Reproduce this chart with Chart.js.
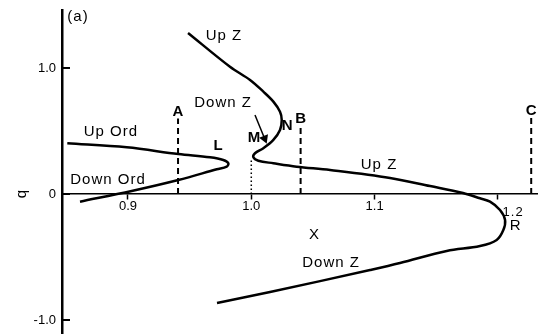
<!DOCTYPE html>
<html>
<head>
<meta charset="utf-8">
<script src="https://cdn.jsdelivr.net/npm/chart.js@4.4.0/dist/chart.umd.min.js"></script>
<style>
  html, body { margin: 0; padding: 0; background: #fff; }
  #box { width: 541px; height: 334px; }
</style>
</head>
<body>
<div id="box"><canvas id="myChart"></canvas></div>
<script>
// ordinary branch: Up Ord -> turning point L -> Down Ord
const ordX = [0.8508, 0.899, 0.9408, 0.9665, 0.9773, 0.9814, 0.9801, 0.972, 0.9408, 0.903, 0.8611];
const ordQ = [0.402, 0.370, 0.317, 0.291, 0.270, 0.244, 0.217, 0.196, 0.111, 0.024, -0.061];

// Z branch: Up Z (top) -> N -> M -> Up Z -> R -> Down Z
const zX = [0.9487, 0.9827, 0.9990, 1.0098, 1.0179, 1.0233, 1.0247, 1.0233, 1.0179, 1.0098, 1.0030, 1.0017,
            1.0057, 1.0179, 1.0368, 1.0639, 1.1125, 1.1450, 1.1717, 1.1855, 1.1936, 1.2017, 1.2058, 1.2044,
            1.1990, 1.1855, 1.1585, 1.1206, 1.0963, 1.0152, 0.9722];
const zQ = [1.278, 1.010, 0.905, 0.812, 0.733, 0.653, 0.587, 0.508, 0.429, 0.363, 0.323, 0.291,
            0.264, 0.244, 0.217, 0.190, 0.127, 0.063, 0.008, -0.034, -0.061, -0.127, -0.206, -0.286,
            -0.365, -0.413, -0.452, -0.548, -0.603, -0.778, -0.865];

// cuts A, B, C (dashed) and the dotted drop from M
const cutNames = ['A', 'B', 'C'];
const cutX = [0.9406, 1.040, 1.227];
const cutTop = [0.60, 0.55, 0.61];
const mX = 1.0;
const mTop = 0.28;

const xTicks = [0.9, 1.0, 1.1, 1.2];
const xTickLabels = ['0.9', '1.0', '1.1', ''];
const yTicks = [-1.0, 0, 1.0];
const yTickLabels = ['-1.0', '0', '1.0'];

const FONT = '"Liberation Sans", Arial, sans-serif';

// text placed in data units
const notes = [
  { text: '(a)', x: 0.8595, q: 1.405 },
  { text: 'Up Z', x: 0.9779, q: 1.254 },
  { text: 'Down Z', x: 0.9771, q: 0.722 },
  { text: 'Up Ord', x: 0.8862, q: 0.492 },
  { text: 'L', x: 0.9730, q: 0.381, bold: true },
  { text: 'M', x: 1.0022, q: 0.444, bold: true },
  { text: 'N', x: 1.0290, q: 0.540, bold: true },
  { text: 'Up Z', x: 1.1036, q: 0.230 },
  { text: 'Down Ord', x: 0.8838, q: 0.111 },
  { text: 'Down Z', x: 1.0647, q: -0.548 },
  { text: 'X', x: 1.0509, q: -0.325 },
  { text: 'R', x: 1.2139, q: -0.254 },
  { text: '1.2', x: 1.2123, q: -0.143, size: 13 }
];

const pts = (xs, ys) => xs.map((v, i) => ({ x: v, y: ys[i] }));

const curve = (xs, ys) => ({
  data: pts(xs, ys),
  showLine: true,
  borderColor: '#000',
  borderWidth: 2.5,
  pointRadius: 0,
  tension: 0.35,
  fill: false
});

const datasets = [curve(ordX, ordQ), curve(zX, zQ)];

cutX.forEach((cx, i) => {
  datasets.push({
    data: [{ x: cx, y: 0 }, { x: cx, y: cutTop[i] }],
    showLine: true,
    borderColor: '#000',
    borderWidth: 2,
    borderDash: [6, 4],
    pointRadius: 0
  });
  notes.push({ text: cutNames[i], x: cx, q: cutTop[i] + 0.05, bold: true });
});

datasets.push({
  data: [{ x: mX, y: 0 }, { x: mX, y: mTop }],
  showLine: true,
  borderColor: '#000',
  borderWidth: 1.5,
  borderDash: [1.5, 2.5],
  pointRadius: 0
});

// arrow from "Down Z" label to the M-N part of the curve
datasets.push({
  data: [{ x: 1.0030, y: 0.627 }, { x: 1.0108, y: 0.440 }],
  showLine: true,
  borderColor: '#000',
  borderWidth: 1.5,
  pointRadius: [0, 4],
  pointStyle: 'triangle',
  rotation: 158,
  pointBackgroundColor: '#000',
  pointBorderColor: '#000'
});

const notesPlugin = {
  id: 'notes',
  afterDraw(chart) {
    const { ctx, scales: { x, y } } = chart;
    ctx.save();
    ctx.fillStyle = '#000';
    ctx.strokeStyle = '#000';
    ctx.textAlign = 'center';
    ctx.textBaseline = 'middle';
    notes.forEach(n => {
      ctx.font = (n.bold ? 'bold ' : '') + (n.size || 15) + 'px ' + FONT;
      ctx.letterSpacing = n.text.length > 2 ? '1px' : '0px';
      ctx.fillText(n.text, x.getPixelForValue(n.x), y.getPixelForValue(n.q));
    });
    ctx.letterSpacing = '0px';
    // y ticks point into the plot
    ctx.lineWidth = 2;
    yTicks.forEach(v => {
      const py = y.getPixelForValue(v);
      ctx.beginPath();
      ctx.moveTo(x.left, py);
      ctx.lineTo(x.left + 8, py);
      ctx.stroke();
    });
    // axis title q
    ctx.font = '15px ' + FONT;
    ctx.translate(x.left - 40, y.getPixelForValue(0));
    ctx.rotate(-Math.PI / 2);
    ctx.fillText('q', 0, 0);
    ctx.restore();
  }
};

// keep tick labels from pushing the plot area inward
const noPad = s => { s.paddingTop = 0; s.paddingBottom = 0; s.paddingLeft = 0; s.paddingRight = 0; };

const ctx = document.getElementById('myChart').getContext('2d');
new Chart(ctx, {
  type: 'scatter',
  data: { datasets: datasets },
  options: {
    responsive: true,
    maintainAspectRatio: false,
    animation: false,
    layout: { autoPadding: false, padding: { top: 10, right: 4, bottom: 0, left: 0 } },
    plugins: { legend: { display: false }, tooltip: { enabled: false } },
    scales: {
      x: {
        type: 'linear',
        min: 0.8465,
        max: 1.2317,
        position: { y: 0 },
        afterFit: s => { s.height = 0; noPad(s); },
        afterBuildTicks: s => { s.ticks = xTicks.map(v => ({ value: v })); },
        ticks: {
          autoSkip: false,
          maxRotation: 0,
          padding: 0,
          color: '#000',
          font: { family: FONT, size: 13 },
          callback: (v, i) => xTickLabels[i]
        },
        grid: { drawOnChartArea: false, drawTicks: true, tickLength: 5, tickWidth: 1.5, tickColor: '#000' },
        border: { color: '#000', width: 1.5 }
      },
      y: {
        type: 'linear',
        min: -1.111,
        max: 1.46,
        afterFit: s => { s.width = 62; noPad(s); },
        afterBuildTicks: s => { s.ticks = yTicks.map(v => ({ value: v })); },
        ticks: {
          padding: 6,
          color: '#000',
          font: { family: FONT, size: 13 },
          callback: (v, i) => yTickLabels[i]
        },
        grid: { drawOnChartArea: false, drawTicks: false },
        border: { color: '#000', width: 2.5 }
      }
    }
  },
  plugins: [notesPlugin]
});
</script>
</body>
</html>
